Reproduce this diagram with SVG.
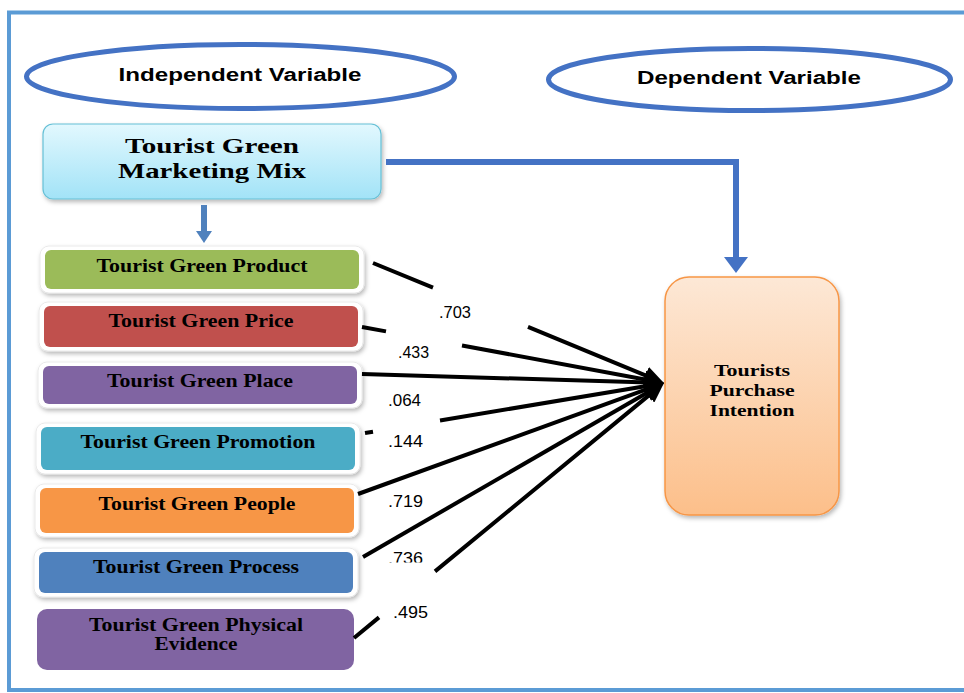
<svg xmlns="http://www.w3.org/2000/svg" width="964" height="693" viewBox="0 0 964 693">
<style>
.frame{fill:none;stroke:#5B9BD5;stroke-width:4}
.oval{fill:#fff;stroke:#4472C4;stroke-width:5}
.ovt{font-family:"Liberation Sans",Arial,sans-serif;font-weight:bold;font-size:18px;fill:#000;text-anchor:middle}
.wb{fill:#fff;stroke:#E4E4E4;stroke-width:0.8;filter:url(#sh)}
.bt{font-family:"Liberation Serif","Times New Roman",serif;font-weight:bold;font-size:18px;fill:#000;text-anchor:middle}
.lbl{font-family:"Liberation Sans",Arial,sans-serif;font-size:16px;fill:#000}
.arr{fill:none;stroke:#000;stroke-width:4;marker-end:url(#bh)}
.blue{fill:none;stroke:#4472C4;stroke-width:6;marker-end:url(#blh)}
</style>
<defs>
<filter id="sh" x="-10%" y="-20%" width="120%" height="150%">
<feDropShadow dx="1.5" dy="2.5" stdDeviation="2" flood-color="#000" flood-opacity="0.28"/>
</filter>
<linearGradient id="gMix" x1="0" y1="0" x2="0" y2="1">
<stop offset="0" stop-color="#E2F8FE"/>
<stop offset="1" stop-color="#A2E3F7"/>
</linearGradient>
<linearGradient id="gTpi" x1="0" y1="0" x2="0" y2="1">
<stop offset="0" stop-color="#FDE8D6"/>
<stop offset="1" stop-color="#FCBF8A"/>
</linearGradient>
<marker id="bh" markerUnits="userSpaceOnUse" markerWidth="22" markerHeight="18" refX="13" refY="9" orient="auto">
<path d="M0,0 L20,9 L0,18 z" fill="#000"/>
</marker>
<marker id="blh" markerUnits="userSpaceOnUse" markerWidth="17" markerHeight="24" refX="0" refY="12" orient="auto">
<path d="M0,0 L16,12 L0,24 z" fill="#4472C4"/>
</marker>
<marker id="blhs" markerUnits="userSpaceOnUse" markerWidth="13" markerHeight="16" refX="0" refY="8" orient="auto">
<path d="M0,0 L12,8 L0,16 z" fill="#4F81BD"/>
</marker>
<clipPath id="c736"><rect x="380" y="540" width="60" height="22.5"/></clipPath>
</defs>

<rect class="frame" x="9" y="12.5" width="975" height="677.5"/>

<g id="independent-variable">
<ellipse class="oval" cx="240.5" cy="76.5" rx="214" ry="32"/>
<text class="ovt" x="240" y="81" textLength="243" lengthAdjust="spacingAndGlyphs">Independent Variable</text>
</g>
<g id="dependent-variable">
<ellipse class="oval" cx="749.5" cy="79.5" rx="201" ry="31"/>
<text class="ovt" x="749" y="84" textLength="224" lengthAdjust="spacingAndGlyphs">Dependent Variable</text>
</g>

<g id="marketing-mix">
<rect x="43" y="124" width="338" height="75" rx="10" fill="url(#gMix)" stroke="#66C0D6" stroke-width="1.2" filter="url(#sh)"/>
<text class="bt" style="font-size:22px" x="212" y="153" textLength="174" lengthAdjust="spacingAndGlyphs">Tourist Green</text>
<text class="bt" style="font-size:22px" x="212" y="178" textLength="188" lengthAdjust="spacingAndGlyphs">Marketing Mix</text>
</g>

<g id="product">
<rect class="wb" x="40" y="246" width="324" height="47" rx="9"/>
<rect x="45" y="250" width="314" height="39" rx="6" fill="#9BBB59"/>
<text class="bt" x="202" y="272" textLength="211" lengthAdjust="spacingAndGlyphs">Tourist Green Product</text>
</g>
<g id="price">
<rect class="wb" x="39" y="302" width="324" height="49" rx="9"/>
<rect x="44" y="306" width="314" height="41" rx="6" fill="#C0504D"/>
<text class="bt" x="201" y="327" textLength="185" lengthAdjust="spacingAndGlyphs">Tourist Green Price</text>
</g>
<g id="place">
<rect class="wb" x="38" y="362" width="324" height="46" rx="9"/>
<rect x="43" y="366" width="314" height="38" rx="6" fill="#8064A2"/>
<text class="bt" x="200" y="387" textLength="186" lengthAdjust="spacingAndGlyphs">Tourist Green Place</text>
</g>
<g id="promotion">
<rect class="wb" x="36" y="423" width="324" height="51" rx="9"/>
<rect x="41" y="427" width="314" height="43" rx="6" fill="#4BACC6"/>
<text class="bt" x="198" y="448" textLength="235" lengthAdjust="spacingAndGlyphs">Tourist Green Promotion</text>
</g>
<g id="people">
<rect class="wb" x="35" y="484" width="324" height="53" rx="9"/>
<rect x="40" y="488" width="314" height="45" rx="6" fill="#F79646"/>
<text class="bt" x="197" y="510" textLength="197" lengthAdjust="spacingAndGlyphs">Tourist Green People</text>
</g>
<g id="process">
<rect class="wb" x="34" y="548" width="324" height="49" rx="9"/>
<rect x="39" y="552" width="314" height="41" rx="6" fill="#4F81BD"/>
<text class="bt" x="196" y="573" textLength="206" lengthAdjust="spacingAndGlyphs">Tourist Green Process</text>
</g>
<g id="physical-evidence">
<rect x="37" y="609" width="317" height="61" rx="10" fill="#8064A2"/>
<text class="bt" x="196" y="631" textLength="214" lengthAdjust="spacingAndGlyphs">Tourist Green Physical</text>
<text class="bt" x="196" y="650" textLength="83" lengthAdjust="spacingAndGlyphs">Evidence</text>
</g>

<g id="purchase-intention">
<rect x="665" y="277" width="174" height="238" rx="24" fill="url(#gTpi)" stroke="#F79646" stroke-width="1.5" filter="url(#sh)"/>
<text class="bt" style="font-size:16px" x="752" y="376" textLength="76" lengthAdjust="spacingAndGlyphs">Tourists</text>
<text class="bt" style="font-size:16px" x="752" y="396" textLength="85" lengthAdjust="spacingAndGlyphs">Purchase</text>
<text class="bt" style="font-size:16px" x="752" y="416" textLength="85" lengthAdjust="spacingAndGlyphs">Intention</text>
</g>

<g id="connectors">
<path class="blue" d="M386,162 H736 V257"/>
<path d="M204,205 V231" fill="none" stroke="#4F81BD" stroke-width="6" marker-end="url(#blhs)"/>
<path class="arr" d="M373,263 L433,287.7 M528,326.9 L657.5,380.3"/>
<path class="arr" d="M362,327 L386,331.4 M462,345.5 L657.1,381.7"/>
<path class="arr" d="M362,374 L657,382.8"/>
<path class="arr" d="M365,433 L373,431.7 M440,420.5 L657.1,384.2"/>
<path class="arr" d="M358,494 L657.4,385.4"/>
<path class="arr" d="M363,557 L657.9,386.5"/>
<path class="arr" d="M354,638 L379,617.4 M435,571.4 L658.6,387.4"/>
<text class="lbl" x="439" y="318" textLength="32" lengthAdjust="spacingAndGlyphs">.703</text>
<text class="lbl" x="398" y="358" textLength="31" lengthAdjust="spacingAndGlyphs">.433</text>
<text class="lbl" x="388" y="406" textLength="33" lengthAdjust="spacingAndGlyphs">.064</text>
<text class="lbl" x="388" y="447" textLength="35" lengthAdjust="spacingAndGlyphs">.144</text>
<text class="lbl" x="388" y="507" textLength="35" lengthAdjust="spacingAndGlyphs">.719</text>
<text class="lbl" x="388" y="564" textLength="35" lengthAdjust="spacingAndGlyphs" clip-path="url(#c736)">.736</text>
<text class="lbl" x="393" y="618" textLength="35" lengthAdjust="spacingAndGlyphs">.495</text>
</g>
</svg>
